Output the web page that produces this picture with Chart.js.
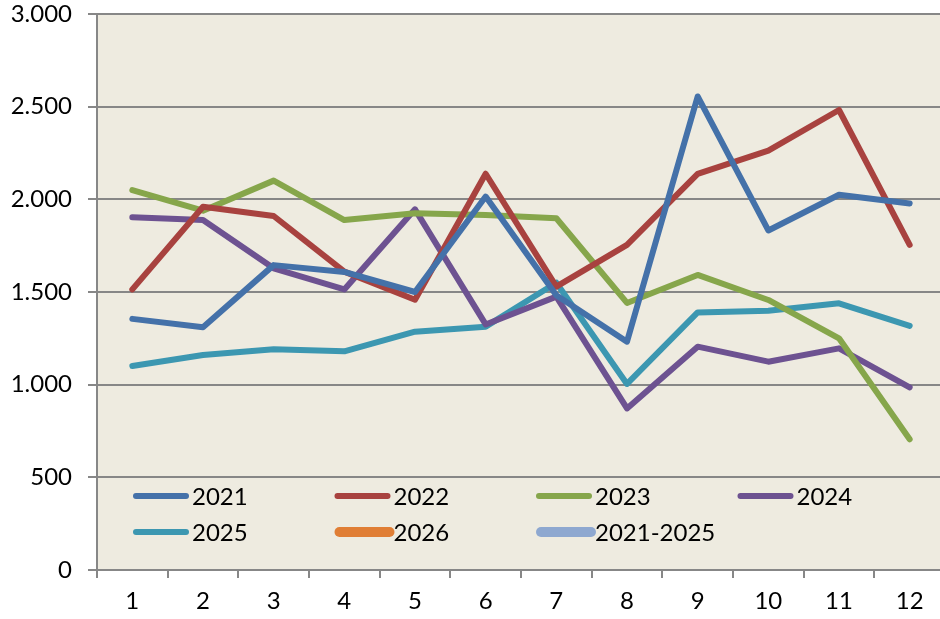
<!DOCTYPE html>
<html>
<head>
<meta charset="utf-8">
<script src="https://cdn.jsdelivr.net/npm/chart.js@4"></script>
<style>
  html, body { margin: 0; padding: 0; background: #fff; overflow: hidden; }
  #wrap { width: 940px; height: 619px; overflow: hidden; }
</style>
</head>
<body>
<div id="wrap"><canvas id="myChart" width="946" height="619"></canvas></div>
<script>
const months = ['1', '2', '3', '4', '5', '6', '7', '8', '9', '10', '11', '12'];

const y2021 = [1355, 1310, 1645, 1608, 1500, 2015, 1482, 1232, 2555, 1832, 2025, 1978];
const y2022 = [1514, 1960, 1910, 1610, 1458, 2138, 1529, 1754, 2137, 2263, 2482, 1754];
const y2023 = [2050, 1939, 2101, 1888, 1925, 1915, 1898, 1441, 1592, 1457, 1250, 705];
const y2024 = [1903, 1888, 1628, 1514, 1946, 1325, 1475, 872, 1205, 1124, 1196, 986];
const y2025 = [1101, 1160, 1191, 1180, 1286, 1313, 1550, 1004, 1390, 1399, 1439, 1317];
const y2026 = [];
const avg2021_2025 = [];

const yTicks = [0, 500, 1000, 1500, 2000, 2500, 3000];

const fontFamily = 'Lato, "Liberation Sans", sans-serif';
const gridColor = '#878787';

// beige plot area
const plotBg = {
  id: 'plotBg',
  beforeDraw(chart) {
    const { ctx, chartArea } = chart;
    ctx.save();
    ctx.fillStyle = '#EEEBE0';
    ctx.fillRect(chartArea.left, chartArea.top, chartArea.right - chartArea.left, chartArea.bottom - chartArea.top);
    ctx.restore();
  }
};

// legend drawn inside the plot, 4 columns
const insideLegend = {
  id: 'insideLegend',
  afterDatasetsDraw(chart) {
    const { ctx, chartArea } = chart;
    chart.data.datasets.forEach((ds, i) => {
      const col = i % 4;
      const row = Math.floor(i / 4);
      const x = chartArea.left + 36 + col * 201.5;
      const y = chartArea.bottom - 74 + row * 36;
      const lw = ds.legendLineWidth || 6;
      ctx.save();
      ctx.strokeStyle = ds.borderColor;
      ctx.lineWidth = lw;
      ctx.lineCap = 'round';
      ctx.beginPath();
      ctx.moveTo(x + lw / 2, y);
      ctx.lineTo(x + 56 - lw / 2 + (lw > 6 ? 4 : 0), y);
      ctx.stroke();
      ctx.fillStyle = '#000';
      ctx.font = '24px ' + fontFamily;
      ctx.textBaseline = 'middle';
      ctx.fillText(ds.label, x + 59, y + 1);
      ctx.restore();
    });
  }
};

function line(label, data, color, extra) {
  return Object.assign({
    label: label,
    data: data,
    borderColor: color,
    backgroundColor: color,
    borderWidth: 6,
    borderJoinStyle: 'round',
    borderCapStyle: 'round',
    pointRadius: 0,
    pointHoverRadius: 0,
    tension: 0,
    fill: false
  }, extra || {});
}

const ctx = document.getElementById('myChart').getContext('2d');
new Chart(ctx, {
  type: 'line',
  data: {
    labels: months,
    datasets: [
      line('2021', y2021, '#4471A9'),
      line('2022', y2022, '#A8423F'),
      line('2023', y2023, '#86A64B'),
      line('2024', y2024, '#6D5291'),
      line('2025', y2025, '#3C97B1'),
      line('2026', y2026, '#E07E35', { legendLineWidth: 10 }),
      line('2021-2025', avg2021_2025, '#8EA8D0', { legendLineWidth: 10 })
    ]
  },
  options: {
    responsive: false,
    animation: false,
    layout: { padding: { top: 14, right: 1, left: 0, bottom: 0 } },
    plugins: {
      legend: { display: false },
      tooltip: { enabled: false }
    },
    scales: {
      x: {
        offset: true,
        grid: {
          offset: true,
          drawOnChartArea: false,
          drawTicks: true,
          tickLength: 8,
          color: gridColor,
          lineWidth: 2
        },
        border: { display: true, color: gridColor, width: 2 },
        ticks: {
          color: '#000',
          font: { family: fontFamily, size: 24 },
          padding: 9,
          maxRotation: 0,
          autoSkip: false
        },
        afterFit(scale) {
          scale.height = 49;
          scale.paddingLeft = 0;
          scale.paddingRight = 0;
        }
      },
      y: {
        min: 0,
        max: 3000,
        afterBuildTicks(scale) { scale.ticks = yTicks.map(v => ({ value: v })); },
        grid: {
          color: gridColor,
          lineWidth: 2,
          tickLength: 9
        },
        border: { display: true, color: gridColor, width: 2 },
        ticks: {
          color: '#000',
          font: { family: fontFamily, size: 24 },
          padding: 16,
          callback: v => v.toString().replace(/\B(?=(\d{3})+(?!\d))/g, '.')
        },
        afterFit(scale) {
          scale.width = 97;
          scale.paddingTop = 0;
          scale.paddingBottom = 0;
        }
      }
    }
  },
  plugins: [plotBg, insideLegend]
});
</script>
</body>
</html>
